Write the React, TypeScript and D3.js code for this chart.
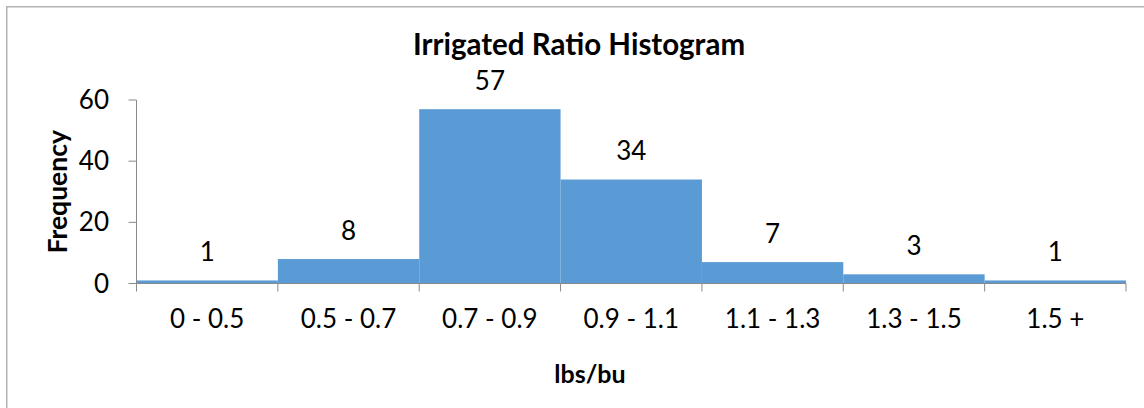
import React from "react";
import * as d3 from "d3";

const categories = ["0 - 0.5", "0.5 - 0.7", "0.7 - 0.9", "0.9 - 1.1", "1.1 - 1.3", "1.3 - 1.5", "1.5 +"];
const frequencies = [1, 8, 57, 34, 7, 3, 1];
const yTicks = [0, 20, 40, 60];

const W = 1144;
const H = 408;
const FONT = "Lato, 'Open Sans', sans-serif";
const BAR = "#5B9BD5";
const AXIS = "#898989";

export default function App() {
  const left = 136.5;
  const right = 1126;
  const top = 100;
  const bottom = 283.5;
  const x = d3.scaleBand<string>().domain(categories).range([left, right]).padding(0);
  const y = d3.scaleLinear().domain([0, 60]).range([bottom, top]);
  const bw = x.bandwidth();
  const boundaries = categories.map((c) => x(c) as number).concat([right]);

  return (
    <div style={{ position: "absolute", left: 0, top: 0 }}>
      <svg width={W} height={H} style={{ display: "block", background: "#fff" }}>
        <rect x={6.75} y={6.75} width={W + 20} height={H + 20} fill="#fff" stroke="#b3b3b3" strokeWidth={1.5} />
        <text x={579} y={55} textAnchor="middle" fontFamily={FONT} fontWeight="bold" fontSize={29.5} fill="#000">
          Irrigated Ratio Histogram
        </text>
        {categories.map((c, i) => (
          <rect key={c} x={x(c) as number} y={y(frequencies[i])} width={bw} height={bottom - y(frequencies[i])} fill={BAR} />
        ))}
        {/* y axis */}
        <line x1={left} x2={left} y1={top} y2={bottom} stroke={AXIS} strokeWidth={1} />
        {yTicks.map((t) => (
          <g key={t}>
            <line x1={left - 8} x2={left} y1={y(t)} y2={y(t)} stroke={AXIS} strokeWidth={1} />
            <text x={109} y={y(t)} dy="0.35em" textAnchor="end" fontFamily={FONT} fontSize={26} fill="#000">
              {t}
            </text>
          </g>
        ))}
        {/* x axis */}
        <line x1={left} x2={right} y1={bottom} y2={bottom} stroke={AXIS} strokeWidth={1} />
        {boundaries.map((b, i) => (
          <line key={i} x1={b} x2={b} y1={bottom} y2={bottom + 8} stroke={AXIS} strokeWidth={1} />
        ))}
        {categories.map((c) => (
          <text key={c} x={(x(c) as number) + bw / 2} y={328} textAnchor="middle" fontFamily={FONT} fontSize={26} fill="#000">
            {c}
          </text>
        ))}
        {categories.map((c, i) => (
          <text key={"l" + c} x={(x(c) as number) + bw / 2} y={y(frequencies[i]) - 19.5} textAnchor="middle" fontFamily={FONT} fontSize={26} fill="#000">
            {frequencies[i]}
          </text>
        ))}
        <text transform={`translate(67, ${(top + bottom) / 2}) rotate(-90)`} textAnchor="middle" fontFamily={FONT} fontWeight="bold" fontSize={26.5} fill="#000">
          Frequency
        </text>
        <text x={590} y={383} textAnchor="middle" fontFamily={FONT} fontWeight="bold" fontSize={25} fill="#000">
          lbs/bu
        </text>
      </svg>
    </div>
  );
}
